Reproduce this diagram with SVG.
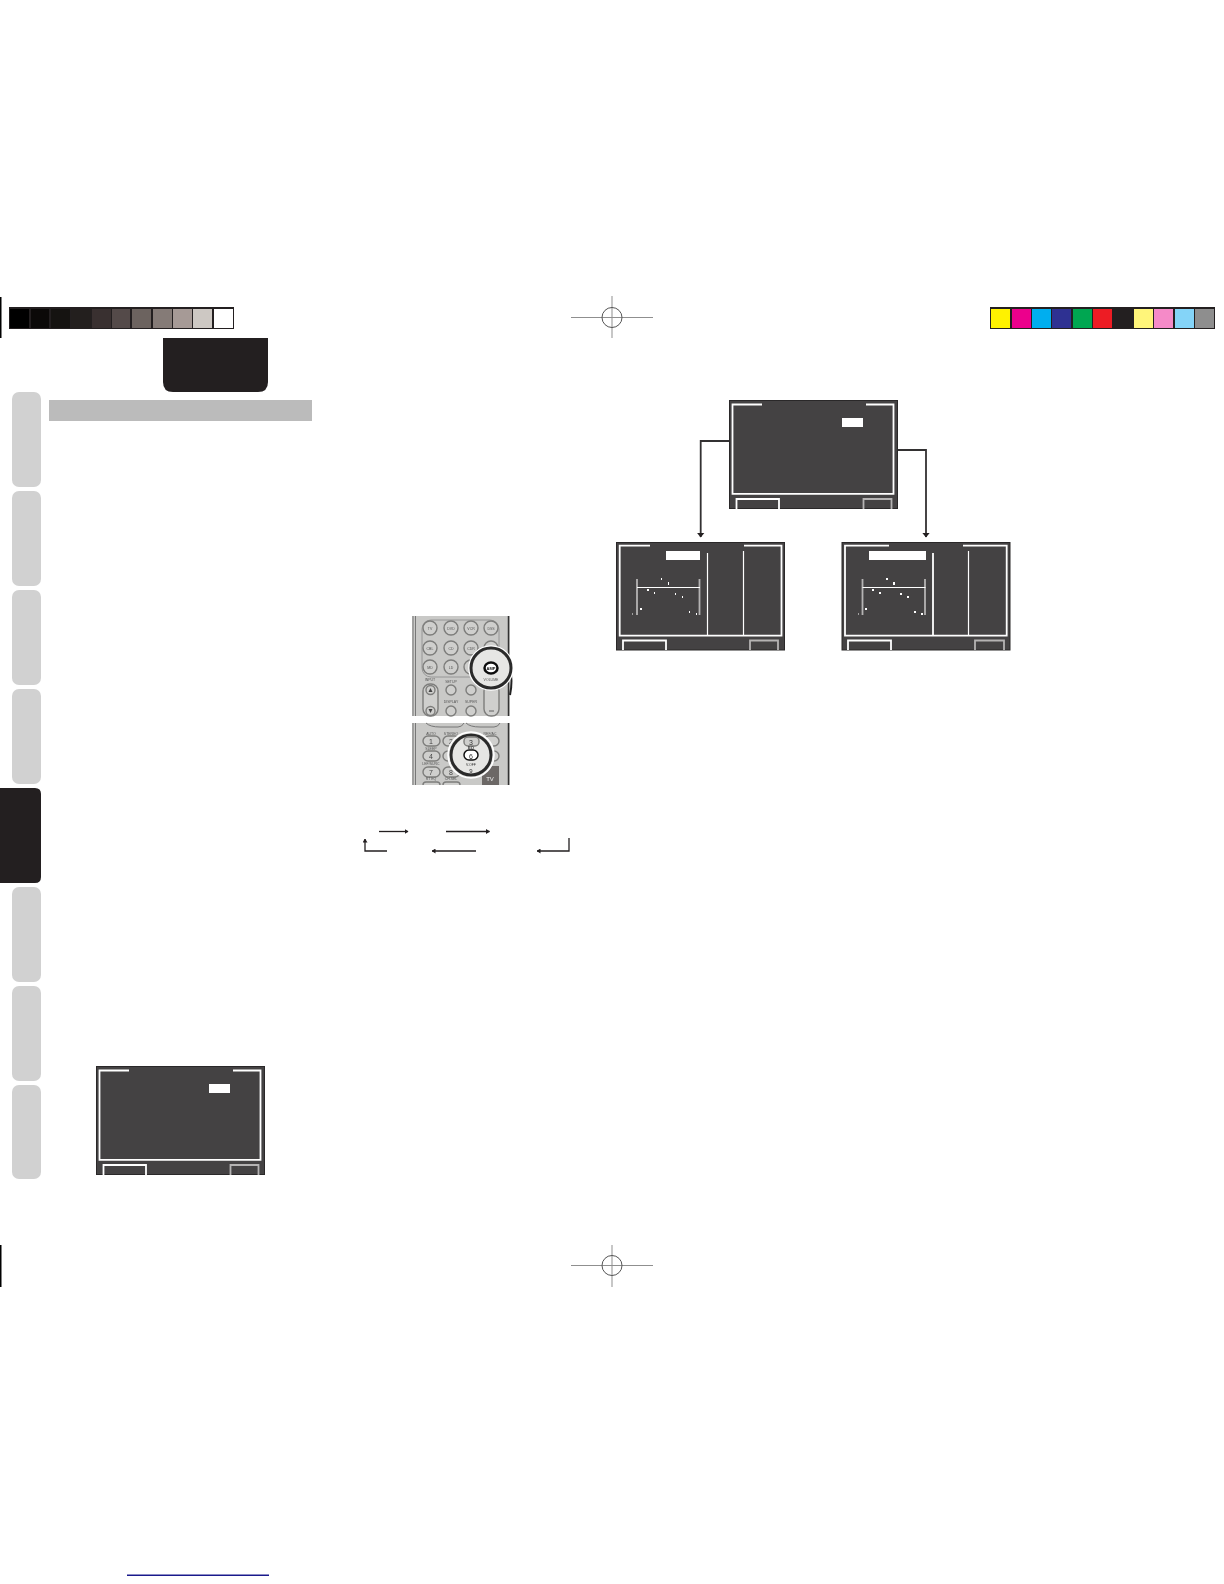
<svg xmlns="http://www.w3.org/2000/svg" width="1224" height="1584" viewBox="0 0 1224 1584">
<style>
.scr{fill:#444243;stroke:#2a2829;stroke-width:1}
.wl{fill:none;stroke:#fff;stroke-width:1.8}
.thin{fill:none;stroke:#fff;stroke-width:1.200}
.gl{fill:none;stroke:#b5b3b3;stroke-width:1.8}
.box{fill:#fff}
.tab{fill:#d1d1d1}
.conn{fill:none;stroke:#231f20;stroke-width:1.300}
.conn2{fill:none;stroke:#333132;stroke-width:1.800}
.reg{fill:none;stroke:#8f8f8f;stroke-width:1}
.btn{fill:#cfcfcd;stroke:#7d7d7b;stroke-width:1.400}
.rt{font-family:"Liberation Sans",Arial,sans-serif;font-size:3.5px;fill:#555;text-anchor:middle}
.digit{font-family:"Liberation Sans",Arial,sans-serif;font-size:7px;fill:#444;text-anchor:middle}
</style>
<defs>
<filter id="soft" x="-5%" y="-5%" width="110%" height="110%"><feGaussianBlur stdDeviation="0.350"/></filter>
<marker id="ah" viewBox="0 0 5 8" refX="4.500" refY="4" markerWidth="5" markerHeight="8" markerUnits="userSpaceOnUse" orient="auto"><path d="M0 0L5 4L0 8z" fill="#231f20"/></marker>
<marker id="as" viewBox="0 0 4 5" refX="3.500" refY="2.500" markerWidth="4" markerHeight="5" markerUnits="userSpaceOnUse" orient="auto"><path d="M0 0L4 2.500L0 5z" fill="#231f20"/></marker>
<g id="mainScreen">
<rect class="scr" x="96.500" y="1066.500" width="168" height="108"/>
<path class="wl" d="M129 1070.500H99.500V1159.800H260.500V1070.500H233"/>
<rect class="box" x="209" y="1084" width="21" height="9"/>
<path class="wl" d="M103.500 1175V1165H146V1175"/>
<path class="gl" d="M230.500 1175V1165H258.500V1175"/>
</g>
<g id="eqGraph">
<path class="gl" d="M637 579V615M699.500 579V615"/>
<path class="thin" d="M637 587.500H700"/>
</g>
</defs>

<g id="crop-marks">
<rect x="0" y="297" width="1.500" height="41" fill="#000"/>
<rect x="0" y="1245" width="1.500" height="42" fill="#000"/>
<rect x="127" y="1574.500" width="142" height="1.500" fill="#1a1a8c"/>
</g>
<g id="registration-top">
<path class="reg" d="M571 317.500H653M612 296V338"/><circle class="reg" cx="612" cy="317.500" r="10" style="stroke:#555"/>
</g>
<g id="registration-bottom">
<path class="reg" d="M571 1265.500H653M612 1245V1287"/><circle class="reg" cx="612" cy="1265.500" r="10" style="stroke:#555"/>
</g>

<g id="gray-bar">
<rect x="9" y="307" width="225" height="22" fill="#231f20"/>
<rect x="10" y="309" width="19" height="19" fill="#000"/>
<rect x="31" y="309" width="18" height="19" fill="#0b0908"/>
<rect x="51" y="309" width="19" height="19" fill="#151311"/>
<rect x="71" y="309" width="20" height="19" fill="#231f1e"/>
<rect x="92" y="309" width="19" height="19" fill="#393030"/>
<rect x="112" y="309" width="18" height="19" fill="#544a49"/>
<rect x="132" y="309" width="19" height="19" fill="#6c635f"/>
<rect x="153" y="309" width="19" height="19" fill="#857b77"/>
<rect x="173" y="309" width="19" height="19" fill="#a69a96"/>
<rect x="193" y="309" width="19" height="19" fill="#cdc8c3"/>
<rect x="214" y="309" width="19" height="19" fill="#fff"/>
</g>
<g id="color-bar">
<rect x="990" y="307" width="225" height="22" fill="#231f20"/>
<rect x="991" y="309" width="19" height="19" fill="#fff200"/>
<rect x="1012" y="309" width="19" height="19" fill="#ec008c"/>
<rect x="1032" y="309" width="19" height="19" fill="#00aeef"/>
<rect x="1052" y="309" width="19" height="19" fill="#2e3192"/>
<rect x="1073" y="309" width="19" height="19" fill="#00a651"/>
<rect x="1093" y="309" width="19" height="19" fill="#ed1c24"/>
<rect x="1113" y="309" width="19" height="19" fill="#231f20"/>
<rect x="1134" y="309" width="19" height="19" fill="#fff57a"/>
<rect x="1154" y="309" width="19" height="19" fill="#f58ac8"/>
<rect x="1175" y="309" width="19" height="19" fill="#84d4f8"/>
<rect x="1195" y="309" width="19" height="19" fill="#8e8e8e"/>
</g>

<g id="header-tab"><path d="M163 338H268V382Q268 392 258 392H173Q163 392 163 382Z" fill="#231f20"/></g>
<g id="section-bar"><rect x="49" y="400" width="263" height="21" fill="#bbb"/></g>

<g id="side-tabs">
<rect class="tab" x="12" y="392" width="29" height="95" rx="7"/>
<rect class="tab" x="12" y="491" width="29" height="95" rx="7"/>
<rect class="tab" x="12" y="590" width="29" height="95" rx="7"/>
<rect class="tab" x="12" y="689" width="29" height="95" rx="7"/>
<path d="M0 788H35Q41 788 41 794V877Q41 883 35 883H0Z" fill="#231f20"/>
<rect class="tab" x="12" y="887" width="29" height="95" rx="7"/>
<rect class="tab" x="12" y="986" width="29" height="95" rx="7"/>
<rect class="tab" x="12" y="1085" width="29" height="94" rx="7"/>
</g>

<g id="screen-small"><use href="#mainScreen"/></g>
<g id="screen-top"><use href="#mainScreen" transform="translate(633,-666)"/></g>

<g id="screen-eq-left">
<rect class="scr" x="616.500" y="542.500" width="168" height="107.500"/>
<path class="wl" d="M650 545.700H619.700V635.700H781.500V545.700H744"/>
<rect class="box" x="666" y="551" width="34" height="9"/>
<path class="thin" d="M707.500 553V635M743.500 551V635"/>
<use href="#eqGraph"/>
<g class="box">
<rect x="632" y="613.500" width="1" height="1"/><rect x="640" y="608" width="2" height="2"/><rect x="647" y="589" width="2" height="2"/><rect x="654" y="592" width="1" height="2"/><rect x="661" y="578" width="1" height="2"/><rect x="668" y="582" width="1" height="3"/><rect x="675" y="593" width="1" height="2"/><rect x="682" y="596" width="1" height="2"/><rect x="689" y="611" width="1" height="2"/><rect x="696" y="613" width="1" height="2"/>
</g>
<path class="wl" d="M623 650V640.500H666V650"/>
<path class="gl" d="M750 650V640.500H778V650"/>
</g>

<g id="screen-eq-right">
<rect class="scr" x="842" y="542.500" width="168" height="107.500"/>
<path class="wl" d="M889 545.700H845V635.700H1006.700V545.700H963"/>
<rect class="box" x="869" y="551" width="57" height="9"/>
<path class="wl" d="M933 553V635"/>
<path class="thin" d="M968.500 551V635"/>
<use href="#eqGraph" transform="translate(225.500,0)"/>
<g class="box">
<rect x="858" y="613.500" width="1" height="1"/><rect x="865" y="608" width="2" height="2"/><rect x="872" y="589" width="2" height="2"/><rect x="879" y="592" width="2" height="2"/><rect x="886" y="578" width="2" height="2"/><rect x="893" y="582" width="2" height="3"/><rect x="900" y="593" width="2" height="2"/><rect x="907" y="596" width="2" height="2"/><rect x="914" y="611" width="2" height="2"/><rect x="921" y="613" width="2" height="2"/>
</g>
<path class="wl" d="M848 650V640.500H891V650"/>
<path class="gl" d="M975 650V640.500H1004V650"/>
</g>

<g id="connectors">
<path class="conn2" d="M729 441H700.700V537" marker-end="url(#ah)"/>
<path class="conn2" d="M898 450H926V537" marker-end="url(#ah)"/>
<path class="conn" d="M379 831.500H408" marker-end="url(#as)"/>
<path class="conn" d="M446 831.500H489.500" marker-end="url(#as)"/>
<path class="conn" d="M387 851H365V839" marker-end="url(#as)"/>
<path class="conn" d="M476 851H432" marker-end="url(#as)"/>
<path class="conn" d="M569 838V851H537" marker-end="url(#as)"/>
</g>

<g id="remote-top" filter="url(#soft)">
<rect x="412" y="616" width="98" height="100" fill="#c9c9c7"/>
<path d="M413 616V716M415.500 616V716" stroke="#777" stroke-width="1" fill="none"/>
<path d="M508.500 616V716" stroke="#333" stroke-width="1.500" fill="none"/>
<rect x="422" y="620" width="77" height="57" rx="9" fill="none" stroke="#8a8a8a" stroke-width="0.800"/>
<g>
<circle class="btn" cx="430" cy="628" r="7"/><circle class="btn" cx="451" cy="628" r="7"/><circle class="btn" cx="471" cy="628" r="7"/><circle class="btn" cx="491" cy="628" r="7"/>
<circle class="btn" cx="430" cy="648" r="7"/><circle class="btn" cx="451" cy="648" r="7"/><circle class="btn" cx="471" cy="648" r="7"/><circle class="btn" cx="491" cy="648" r="7"/>
<circle class="btn" cx="430" cy="667" r="7"/><circle class="btn" cx="451" cy="667" r="7"/><circle class="btn" cx="471" cy="667" r="7"/>
<circle class="btn" cx="451" cy="690" r="5"/><circle class="btn" cx="471" cy="690" r="5"/><circle class="btn" cx="451" cy="711" r="5"/><circle class="btn" cx="471" cy="711" r="5"/>
<rect class="btn" x="423" y="684" width="15" height="32" rx="7"/><rect class="btn" x="484" y="684" width="15" height="32" rx="7"/>
<circle class="btn" cx="430.500" cy="690" r="4.500"/><circle class="btn" cx="430.500" cy="711" r="4.500"/>
</g>
<path d="M428.500 692H432.500L430.500 688ZM428.500 709H432.500L430.500 713Z" fill="#444"/>
<path d="M489 711H494" stroke="#444" stroke-width="0.800"/>
<text class="rt" x="430" y="629.500">TV</text><text class="rt" x="451" y="629.500">DVD</text><text class="rt" x="471" y="629.500">VCR</text><text class="rt" x="491" y="629.500">DSS</text>
<text class="rt" x="430" y="649.500">CBL</text><text class="rt" x="451" y="649.500">CD</text><text class="rt" x="471" y="649.500">CDR</text>
<text class="rt" x="430" y="668.500">MD</text><text class="rt" x="451" y="668.500">LD</text>
<text class="rt" x="430" y="681">INPUT</text><text class="rt" x="451" y="683">SETUP</text><text class="rt" x="451" y="703">DISPLAY</text><text class="rt" x="471" y="703">SUPER</text>
<path d="M510 670Q513 680 510 695" stroke="#222" stroke-width="2" fill="none"/>
<circle cx="491" cy="668" r="22" fill="#e6e6e4" stroke="#fff" stroke-width="1.500"/>
<circle cx="491" cy="668" r="20" fill="none" stroke="#2b2b2b" stroke-width="3"/>
<ellipse cx="491" cy="668" rx="6.500" ry="5.500" fill="#fff" stroke="#111" stroke-width="2.500"/>
<text x="491" y="669.500" font-family="'Liberation Sans',Arial,sans-serif" font-size="4px" font-weight="bold" text-anchor="middle" fill="#111">AMP</text>
<text class="rt" x="491" y="681">VOLUME</text>
</g>

<g id="remote-bottom" filter="url(#soft)">
<rect x="412" y="723" width="98" height="62" fill="#c9c9c7"/>
<path d="M413 723V785M415.500 723V785" stroke="#777" stroke-width="1" fill="none"/>
<path d="M508.500 723V785" stroke="#333" stroke-width="1.500" fill="none"/>
<path d="M426 723Q430 727 440 727H458Q462 727 464 723M466 723Q470 727 480 727H494Q498 727 500 723" fill="none" stroke="#777" stroke-width="1"/>
<rect class="btn" x="423" y="736" width="17" height="10" rx="5"/><rect class="btn" x="443" y="736" width="17" height="10" rx="5"/><rect class="btn" x="484" y="736" width="15" height="10" rx="5"/>
<rect class="btn" x="423" y="751" width="17" height="10" rx="5"/><rect class="btn" x="443" y="751" width="17" height="10" rx="5"/><rect class="btn" x="484" y="751" width="15" height="10" rx="5"/>
<rect class="btn" x="423" y="767" width="17" height="10" rx="5"/><rect class="btn" x="443" y="767" width="17" height="10" rx="5"/>
<rect class="btn" x="423" y="782" width="17" height="6" rx="3"/><rect class="btn" x="443" y="782" width="17" height="6" rx="3"/>
<rect x="412" y="785" width="98" height="4" fill="#fff"/>
<rect x="482" y="766" width="17" height="19" fill="#6c6866"/>
<text x="490" y="781" font-family="'Liberation Sans',Arial,sans-serif" font-size="6px" text-anchor="middle" fill="#eee">TV</text>
<text class="digit" x="431" y="744">1</text><text class="digit" x="451" y="744">2</text><text class="digit" x="431" y="759">4</text><text class="digit" x="431" y="775">7</text><text class="digit" x="451" y="775">8</text>
<text class="rt" x="431" y="735">AUTO</text><text class="rt" x="451" y="735">STEREO</text><text class="rt" x="490" y="735">REF/AC</text>
<text class="rt" x="431" y="750">SLEEP</text><text class="rt" x="431" y="765">LEF/SURC</text><text class="rt" x="431" y="780">RT EQ</text><text class="rt" x="451" y="780">CH.SEL</text>
<circle cx="471" cy="755" r="23" fill="#e6e6e4" stroke="#fff" stroke-width="1.500"/>
<circle cx="471" cy="755" r="20" fill="none" stroke="#2b2b2b" stroke-width="3"/>
<rect class="btn" x="464" y="737" width="15" height="9" rx="4"/>
<rect x="464" y="750" width="14" height="10" rx="5" fill="#fff" stroke="#111" stroke-width="1.500"/>
<g font-family="'Liberation Sans',Arial,sans-serif" text-anchor="middle" fill="#333">
<text x="471" y="744.500" font-size="7px">3</text><text x="471" y="758.500" font-size="7px">6</text><text x="471" y="749" font-size="4px" font-weight="bold">EQ</text>
<text x="471" y="766" font-size="3.500px">V.OFF</text><text x="471" y="773" font-size="6px">9</text>
</g>
</g>
</svg>
